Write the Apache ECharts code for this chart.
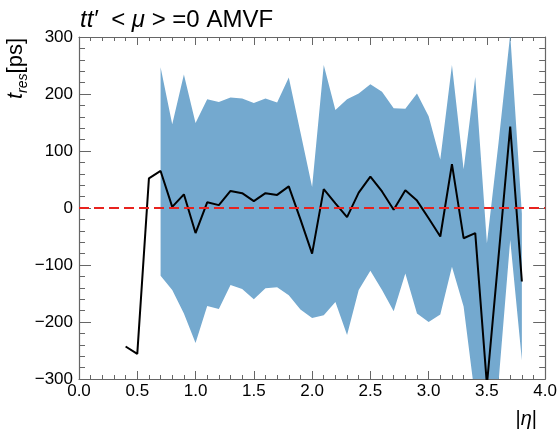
<!DOCTYPE html>
<html>
<head>
<meta charset="utf-8">
<script src="https://cdn.jsdelivr.net/npm/echarts@6/dist/echarts.min.js"></script>
<style>
  html, body { margin: 0; padding: 0; background: #fff; }
  #chart { width: 560px; height: 431px; }
</style>
</head>
<body>
<div id="chart"></div>
<script>
// ---- data ----
const lineX = [0.4, 0.5, 0.6, 0.7, 0.8, 0.9, 1.0, 1.1, 1.2, 1.3, 1.4, 1.5, 1.6, 1.7, 1.8, 1.9,
               2.0, 2.1, 2.2, 2.3, 2.4, 2.5, 2.6, 2.7, 2.8, 2.9, 3.0, 3.1, 3.2, 3.3, 3.4, 3.5,
               3.6, 3.7, 3.8];
const lineY = [-243, -256, 52, 65, 2, 24, -44, 10, 5, 30, 26, 12, 26, 23, 38, -20,
               -80, 33, 8, -16, 27, 55, 29, -3, 31, 13, -18, -50, 77, -53, -44, -310,
               -85, 143, -129];

const bandX = [0.7, 0.8, 0.9, 1.0, 1.1, 1.2, 1.3, 1.4, 1.5, 1.6, 1.7, 1.8, 1.9, 2.0, 2.1, 2.2,
               2.3, 2.4, 2.5, 2.6, 2.7, 2.8, 2.9, 3.0, 3.1, 3.2, 3.3, 3.4, 3.5, 3.6, 3.7, 3.8];
const bandUpper = [247, 147, 234, 149, 191, 186, 194, 192, 184, 192, 185, 229, 133, 37, 251, 172,
                   191, 201, 217, 204, 175, 174, 201, 161, 85, 251, 68, 230, -62, 115, 305, -10];
const bandLower = [-119, -144, -185, -237, -172, -177, -135, -142, -160, -141, -139, -153, -178, -193, -188, -165,
                   -223, -144, -110, -144, -181, -115, -185, -200, -187, -103, -173, -335, -340, -305, -56, -267];

const xTicks = { min: 0, max: 4, step: 0.5 };
const yTicks = { min: -300, max: 300, step: 100 };
const refLevel = 0;

// ---- chart ----
const FONT = 'Liberation Sans';
const chart = echarts.init(document.getElementById('chart'), null, { renderer: 'canvas' });

const bandData = bandX.map((x, i) => [x, bandLower[i], bandUpper[i]]);
const lineData = lineX.map((x, i) => [x, lineY[i]]);

const axisCol = '#666';
const xBase = {
  type: 'value', min: xTicks.min, max: xTicks.max, interval: xTicks.step,
  axisLine: { show: true, onZero: false, lineStyle: { color: axisCol, width: 1.2 } },
  axisTick: { show: true, inside: true, length: 8, lineStyle: { color: axisCol } },
  minorTick: { show: true, splitNumber: 5, length: 4, lineStyle: { color: axisCol } },
  splitLine: { show: false }
};
const yBase = {
  type: 'value', min: yTicks.min, max: yTicks.max, interval: yTicks.step,
  axisLine: { show: true, onZero: false, lineStyle: { color: axisCol, width: 1.2 } },
  axisTick: { show: true, inside: true, length: 12, lineStyle: { color: axisCol } },
  minorTick: { show: true, splitNumber: 5, length: 6, lineStyle: { color: axisCol } },
  splitLine: { show: false }
};

function renderBand(params, api) {
  if (params.dataIndex !== 0) return null;
  const upper = bandX.map((x, i) => api.coord([x, bandUpper[i]]));
  const lower = bandX.map((x, i) => api.coord([x, bandLower[i]])).reverse();
  const cs = params.coordSys;
  return {
    type: 'polygon',
    shape: { points: upper.concat(lower) },
    style: { fill: '#74a9cf', stroke: null },
    clipPath: { type: 'rect', shape: { x: cs.x, y: cs.y, width: cs.width, height: cs.height } }
  };
}

chart.setOption({
  animation: false,
  backgroundColor: '#fff',
  grid: { left: 79, right: 14, top: 37, bottom: 52, containLabel: false },
  xAxis: [
    Object.assign({}, xBase, {
      position: 'bottom',
      axisLabel: { show: true, color: '#000', fontFamily: FONT, fontSize: 17, margin: 4,
                   formatter: v => v.toFixed(1) }
    }),
    Object.assign({}, xBase, { position: 'top', axisLabel: { show: false } })
  ],
  yAxis: [
    Object.assign({}, yBase, {
      position: 'left',
      axisLabel: { show: true, color: '#000', fontFamily: FONT, fontSize: 17, margin: 6,
                   formatter: v => String(v).replace('-', '\u2212') }
    }),
    Object.assign({}, yBase, { position: 'right', axisLabel: { show: false } })
  ],
  series: [
    {
      type: 'custom', data: bandData, renderItem: renderBand, clip: true, silent: true, z: 1,
      encode: { x: 0, y: [1, 2] }
    },
    {
      type: 'line', data: lineData, symbol: 'none', z: 3, clip: true,
      lineStyle: { color: '#000', width: 2 },
      markLine: {
        silent: true, symbol: ['none', 'none'], label: { show: false },
        lineStyle: { color: '#e8231f', width: 2, type: [10, 5] },
        data: [{ yAxis: refLevel }]
      }
    }
  ],
  graphic: [
    {
      type: 'text', left: 80, top: 8,
      style: {
        text: '{i|tt′}{n|  < }{i|μ}{n| > =0 AMVF}',
        fill: '#000',
        rich: {
          i: { fontFamily: FONT, fontSize: 24, fontStyle: 'italic', fill: '#000' },
          n: { fontFamily: FONT, fontSize: 24, fill: '#000' }
        }
      }
    },
    {
      type: 'text', x: 16, y: 38, rotation: Math.PI / 2,
      style: {
        text: '{t|t}{s|res}{n|[ps]}',
        align: 'right', verticalAlign: 'middle',
        rich: {
          t: { fontFamily: FONT, fontSize: 22, fontStyle: 'italic', lineHeight: 28, fill: '#000' },
          s: { fontFamily: FONT, fontSize: 14, fontStyle: 'italic', verticalAlign: 'bottom', lineHeight: 28, fill: '#000' },
          n: { fontFamily: FONT, fontSize: 22, lineHeight: 28, fill: '#000' }
        }
      }
    },
    {
      type: 'text', x: 537, y: 419,
      style: {
        text: '|{i|η}|',
        align: 'right', verticalAlign: 'middle',
        fontFamily: FONT, fontSize: 20, fill: '#000',
        rich: { i: { fontFamily: FONT, fontSize: 20, fontStyle: 'italic', fill: '#000' } }
      }
    }
  ]
});
</script>
</body>
</html>
